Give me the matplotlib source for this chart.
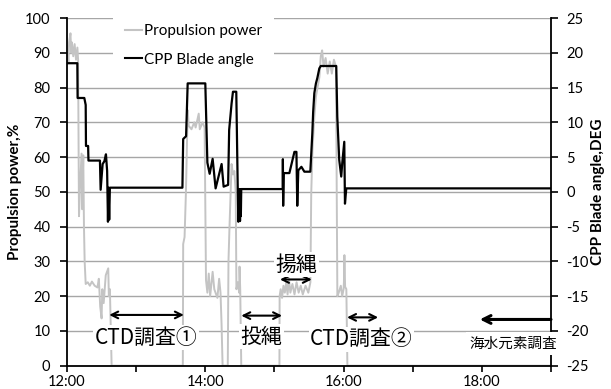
import matplotlib
matplotlib.use('Agg')
import matplotlib.pyplot as plt
from matplotlib.lines import Line2D

plt.rcParams['font.family'] = ['Lato', 'Noto Sans CJK JP', 'DejaVu Sans']
plt.rcParams['axes.unicode_minus'] = False

# time in hours (clock)
power_t = [12.000, 12.010, 12.020, 12.030, 12.050, 12.060, 12.070, 12.090, 12.110, 12.130,
           12.150, 12.160, 12.173, 12.185, 12.210, 12.220, 12.235, 12.245, 12.255, 12.270,
           12.300, 12.330, 12.360, 12.400, 12.440, 12.460, 12.480, 12.500, 12.510, 12.530,
           12.560, 12.596, 12.605, 12.620, 12.645, 13.675, 13.680, 13.700, 13.720, 13.745,
           13.760, 13.800, 13.840, 13.860, 13.905, 13.920, 13.960, 13.990, 14.010, 14.030,
           14.050, 14.070, 14.106, 14.130, 14.175, 14.200, 14.220, 14.235, 14.250, 14.325,
           14.335, 14.350, 14.370, 14.380, 14.400, 14.420, 14.440, 14.450, 14.470, 14.490,
           14.495, 14.505, 14.520, 15.072, 15.075, 15.090, 15.110, 15.130, 15.150, 15.170,
           15.190, 15.210, 15.230, 15.260, 15.290, 15.320, 15.350, 15.380, 15.410, 15.450,
           15.490, 15.520, 15.532, 15.550, 15.577, 15.600, 15.650, 15.670, 15.690, 15.710,
           15.740, 15.770, 15.800, 15.830, 15.860, 15.890, 15.910, 15.930, 15.960, 15.980,
           16.000, 16.005, 16.012, 16.022, 16.040, 16.055, 19.000]
power_pct = [88, 90, 87, 93, 95.6, 90, 93, 89, 92.5, 88,
             91.5, 88, 43, 50, 61, 45, 60.5, 40, 30, 23.5,
             24, 23, 24.2, 23, 22.5, 25, 17, 13.6, 22, 18,
             26, 28, 20, 22, 0, 0, 35, 37, 50, 73.5,
             69, 68, 70, 68.5, 72.5, 68, 70, 68.5, 24.6, 21,
             26.5, 20, 27, 22, 19.5, 25, 21, 12, 0, 0,
             30, 40, 52, 58, 55, 56, 50, 22, 24, 21,
             28.5, 22, 0, 0, 20, 22, 19.5, 23, 21, 24,
             20.5, 25, 21, 23.5, 20.5, 24, 21, 23, 20.5, 23,
             21, 24, 49.6, 62, 71.6, 77.4, 83, 89, 90.7, 86,
             88.5, 84, 87.5, 84, 88, 86, 20, 21, 23, 20,
             22, 24, 31.8, 22.7, 22, 0, 0]

blade_t = [12.000, 12.149, 12.153, 12.250, 12.270, 12.274, 12.305, 12.310, 12.476, 12.486,
           12.515, 12.540, 12.563, 12.580, 12.592, 12.600, 12.610, 12.620, 13.669, 13.680,
           13.722, 13.745, 14.000, 14.030, 14.063, 14.106, 14.149, 14.236, 14.265, 14.330,
           14.345, 14.380, 14.400, 14.448, 14.470, 14.478, 14.484, 14.490, 14.496, 14.502,
           14.508, 14.514, 14.520, 15.120, 15.122, 15.126, 15.135, 15.216, 15.289, 15.318,
           15.330, 15.345, 15.390, 15.433, 15.519, 15.548, 15.560, 15.577, 15.600, 15.620,
           15.649, 15.670, 15.894, 15.909, 15.937, 15.966, 15.981, 16.010, 16.020, 16.039,
           19.000]
blade_deg = [18.5, 18.5, 13.5, 13.5, 12.5, 6.6, 6.6, 4.5, 4.5, 0.3,
             4.0, 4.4, 5.4, 3.0, -4.3, 0.6, -4.0, 0.6, 0.6, 7.6,
             8.0, 15.6, 15.6, 4.2, 2.6, 4.75, 0.5, 4.0, 0.75, 1.0,
             8.9, 12.7, 14.4, 14.4, 0.0, -4.3, 0.4, -3.8, 0.4, -4.2,
             0.4, -3.5, 0.4, 0.4, 4.7, -2.0, 2.7, 2.7, 5.75, 5.75,
             -2.0, 3.1, 3.6, 2.9, 2.9, 8.45, 11.5, 14.2, 15.6, 16.35,
             17.75, 18.1, 18.1, 10.8, 4.6, 2.2, 4.15, 7.2, -1.7, 0.5,
             0.5]

# work periods: (label, start, end, arrow height on % axis, text x, text y)
periods = [('CTD調査①', 12.61, 13.69, 14.6, 13.14, 8.0),
           ('投縄', 14.52, 15.11, 14.4, 14.81, 8.3),
           ('揚縄', 15.08, 15.54, 24.8, 15.32, 29.0),
           ('CTD調査②', 16.05, 16.50, 13.9, 16.26, 7.6)]

fig = plt.figure(figsize=(6.11, 3.89), dpi=100)
ax = fig.add_axes([0.1097, 0.0599, 0.7921, 0.8938])
ax2 = ax.twinx()

ax.set_axisbelow(True)
ax.grid(axis='y', color='#a6a6a6', lw=1)
ax.plot(power_t, power_pct, color='#c4c4c4', lw=1.4, label='Propulsion power')
ax2.plot(blade_t, blade_deg, color='black', lw=1.6, label='CPP Blade angle')

ax.set_xlim(12, 19)
ax.set_ylim(0, 100)
ax2.set_ylim(-25, 25)
ax.set_yticks(range(0, 101, 10))
ax2.set_yticks(range(-25, 26, 5))
ax.set_xticks(range(12, 20))
ax.set_xticklabels([f'{h}:00' if h % 2 == 0 else '' for h in range(12, 20)])

for a in (ax, ax2):
    a.spines['top'].set_visible(False)
ax.spines['right'].set_visible(False)
ax2.spines['left'].set_visible(False)
ax2.spines['bottom'].set_visible(False)
ax.spines['left'].set_linewidth(1.3)
ax.spines['bottom'].set_linewidth(1.3)
ax2.spines['right'].set_linewidth(1.3)
ax.tick_params(axis='y', length=5, width=1.2, labelsize=10.5, pad=7)
ax.tick_params(axis='x', length=4, width=1.2, labelsize=10.5, pad=3)
ax2.tick_params(axis='y', length=5, width=1.2, labelsize=10.5, pad=6)

ax.set_ylabel('Propulsion power,%', fontsize=11, fontweight='bold')
ax2.set_ylabel('CPP Blade angle,DEG', fontsize=11, fontweight='bold')
ax.yaxis.set_label_coords(-0.094, 0.5)
ax2.yaxis.set_label_coords(1.083, 0.5)

handles = [Line2D([], [], color='#c4c4c4', lw=1.5), Line2D([], [], color='black', lw=1.5)]
leg = ax2.legend(handles, ['Propulsion power', 'CPP Blade angle'], loc='upper left',
                 bbox_to_anchor=(113 / 611, 1.0 - 12 / 389), bbox_transform=fig.transFigure,
                 frameon=True, facecolor='white', edgecolor='none', fancybox=False,
                 fontsize=11, handlelength=1.1, handletextpad=0.1,
                 labelspacing=0.95, borderpad=0.8, borderaxespad=0)
leg.get_frame().set_alpha(1)

cjk = ['Noto Sans CJK JP', 'DejaVu Sans']
box = dict(facecolor='white', edgecolor='none', pad=1)
for name, t0, t1, y, tx, ty in periods:
    ax2.annotate('', xy=(t1, y), xytext=(t0, y), xycoords=ax.transData,
                 textcoords=ax.transData,
                 arrowprops=dict(arrowstyle='<->', color='black', lw=1.5,
                                 shrinkA=0, shrinkB=0, mutation_scale=12))
    ax2.text(tx, ty, name, transform=ax.transData, ha='center', va='center',
             fontsize=15, family=cjk, bbox=box, zorder=5)

ax2.annotate('', xy=(17.97, 13.3), xytext=(19.0, 13.3), xycoords=ax.transData,
             textcoords=ax.transData,
             arrowprops=dict(arrowstyle='->', color='black', lw=2.2,
                             shrinkA=0, shrinkB=0, mutation_scale=14))
ax2.text(18.46, 6.4, '海水元素調査', transform=ax.transData, ha='center', va='center',
         fontsize=10.5, family=cjk, bbox=dict(facecolor='white', edgecolor='none', pad=3),
         zorder=5, clip_on=False)

fig.savefig('out.png', dpi=100)
